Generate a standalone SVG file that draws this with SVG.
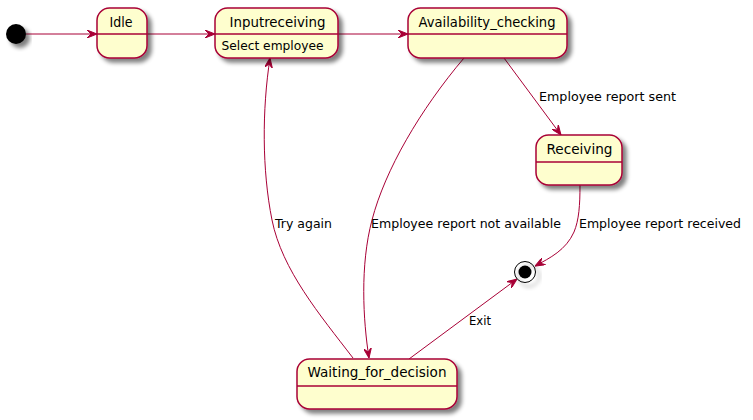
<svg xmlns="http://www.w3.org/2000/svg" width="753" height="420" viewBox="0 0 753 420">
<defs>
<filter id="sh" x="-20%" y="-20%" width="150%" height="160%">
<feGaussianBlur in="SourceAlpha" stdDeviation="2"/>
<feOffset dx="4" dy="4" result="b"/>
<feComponentTransfer><feFuncA type="linear" slope="0.5"/></feComponentTransfer>
<feMerge><feMergeNode/><feMergeNode in="SourceGraphic"/></feMerge>
</filter>
<marker id="ah" viewBox="0 0 10 8" refX="10" refY="4" markerWidth="10" markerHeight="8" markerUnits="userSpaceOnUse" orient="auto">
<path d="M0,0 L10,4 L0,8 L4,4 Z" fill="#A80036" stroke="#A80036" stroke-width="1"/>
</marker>
</defs>
<style>
.st{fill:#FEFECE;stroke:#A80036;stroke-width:1.5}
.dv{stroke:#A80036;stroke-width:1.5}
.nm{font-family:"DejaVu Sans",sans-serif;font-size:13.3px;fill:#000}
.ds{font-family:"DejaVu Sans",sans-serif;font-size:11.8px;fill:#000}
.lb{font-family:"DejaVu Sans",sans-serif;font-size:12.6px;fill:#000}
.ed{fill:none;stroke:#A80036;stroke-width:1;marker-end:url(#ah)}
</style>
<rect width="753" height="420" fill="#FFFFFF"/>
<g id="connectors">
<path class="ed" d="M26,34 L97,34"/>
<path class="ed" d="M147,34 L215,34"/>
<path class="ed" d="M338,34 L408,34"/>
<path class="ed" d="M504,58 L561,135"/>
<path class="ed" d="M464,58 C420,110 385,170 372,220 C360,265 363,320 369,358"/>
<path class="ed" d="M353,358 C320,315 282,270 272,220 C262,170 262,110 270,58"/>
<path class="ed" d="M580,185 C580,205 579,220 574,232 C566,250 550,258 535,266"/>
<path class="ed" d="M409,359 L517,279"/>
<text class="lb" x="539" y="101" textLength="137" lengthAdjust="spacingAndGlyphs">Employee report sent</text>
<text class="lb" x="371" y="228" textLength="190" lengthAdjust="spacingAndGlyphs">Employee report not available</text>
<text class="lb" x="275" y="228" textLength="57" lengthAdjust="spacingAndGlyphs">Try again</text>
<text class="lb" x="579" y="228" textLength="162" lengthAdjust="spacingAndGlyphs">Employee report received</text>
<text class="lb" x="469" y="325" textLength="22" lengthAdjust="spacingAndGlyphs">Exit</text>
</g>
<g id="start">
<circle cx="16" cy="34" r="10" fill="#000" filter="url(#sh)"/>
</g>
<g id="Idle">
<rect class="st" x="97" y="8" width="50" height="50" rx="12.5" ry="12.5" filter="url(#sh)"/>
<line class="dv" x1="97" y1="34" x2="147" y2="34"/>
<text class="nm" x="109.5" y="27" textLength="23" lengthAdjust="spacingAndGlyphs">Idle</text>
</g>
<g id="Inputreceiving">
<rect class="st" x="215" y="8" width="123" height="50" rx="12.5" ry="12.5" filter="url(#sh)"/>
<line class="dv" x1="215" y1="34" x2="338" y2="34"/>
<text class="nm" x="229.5" y="27" textLength="96" lengthAdjust="spacingAndGlyphs">Inputreceiving</text>
<text class="ds" x="221.5" y="50" textLength="102" lengthAdjust="spacingAndGlyphs">Select employee</text>
</g>
<g id="Availability_checking">
<rect class="st" x="408" y="8" width="159" height="50" rx="12.5" ry="12.5" filter="url(#sh)"/>
<line class="dv" x1="408" y1="34" x2="567" y2="34"/>
<text class="nm" x="418.5" y="27" textLength="137" lengthAdjust="spacingAndGlyphs">Availability_checking</text>
</g>
<g id="Receiving">
<rect class="st" x="536" y="135" width="86" height="50" rx="12.5" ry="12.5" filter="url(#sh)"/>
<line class="dv" x1="536" y1="162" x2="622" y2="162"/>
<text class="nm" x="546.5" y="154" textLength="66" lengthAdjust="spacingAndGlyphs">Receiving</text>
</g>
<g id="Waiting_for_decision">
<rect class="st" x="297" y="359" width="160" height="50" rx="12.5" ry="12.5" filter="url(#sh)"/>
<line class="dv" x1="297" y1="386" x2="457" y2="386"/>
<text class="nm" x="307.5" y="377" textLength="139" lengthAdjust="spacingAndGlyphs">Waiting_for_decision</text>
</g>
<g id="end">
<circle cx="525" cy="272" r="10.5" fill="none" stroke="#000" stroke-width="1" filter="url(#sh)"/>
<circle cx="525" cy="272" r="6.5" fill="#000"/>
</g>
</svg>
